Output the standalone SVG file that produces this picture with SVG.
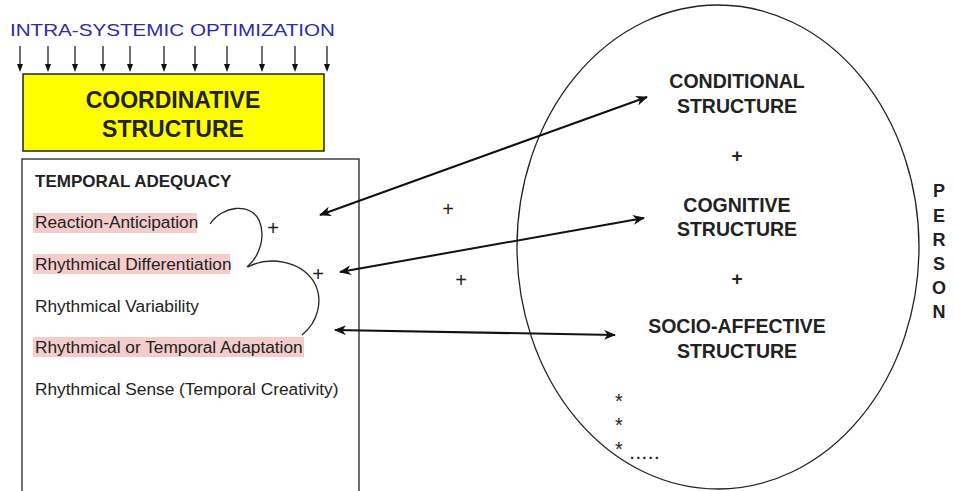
<svg xmlns="http://www.w3.org/2000/svg" width="955" height="491" viewBox="0 0 955 491">
<defs>
<marker id="ah" viewBox="0 0 12 10" refX="11" refY="5" markerWidth="12" markerHeight="10" markerUnits="userSpaceOnUse" orient="auto-start-reverse">
<path d="M0,0 L12,5 L0,10 L3.5,5 Z" fill="#111"/>
</marker>
<style>
.t{font-family:"Liberation Sans",Arial,sans-serif;fill:#222}
.b{font-weight:bold}
.hl{fill:#f4cccc}
.con{stroke:#111;stroke-width:2;fill:none;marker-start:url(#ah);marker-end:url(#ah)}
.dn{stroke:#111;stroke-width:1.2}
.cv{stroke:#222;stroke-width:1.3;fill:none}
</style>
</defs>
<rect width="955" height="491" fill="#fff"/>

<g id="optimization">
<text class="t" x="10" y="36" font-size="17" textLength="325" lengthAdjust="spacingAndGlyphs" style="fill:#2b2bae">INTRA-SYSTEMIC OPTIMIZATION</text>
<g class="dn">
<line x1="20" y1="46" x2="20" y2="69"/>
<line x1="48" y1="46" x2="48" y2="69"/>
<line x1="75" y1="46" x2="75" y2="69"/>
<line x1="103" y1="46" x2="103" y2="69"/>
<line x1="130" y1="46" x2="130" y2="69"/>
<line x1="164" y1="46" x2="164" y2="69"/>
<line x1="195" y1="46" x2="195" y2="69"/>
<line x1="227" y1="46" x2="227" y2="69"/>
<line x1="262" y1="46" x2="262" y2="69"/>
<line x1="295" y1="46" x2="295" y2="69"/>
<line x1="327" y1="46" x2="327" y2="69"/>
</g>
<g fill="#111">
<path d="M17,64 L23,64 L20,72 Z"/>
<path d="M45,64 L51,64 L48,72 Z"/>
<path d="M72,64 L78,64 L75,72 Z"/>
<path d="M100,64 L106,64 L103,72 Z"/>
<path d="M127,64 L133,64 L130,72 Z"/>
<path d="M161,64 L167,64 L164,72 Z"/>
<path d="M192,64 L198,64 L195,72 Z"/>
<path d="M224,64 L230,64 L227,72 Z"/>
<path d="M259,64 L265,64 L262,72 Z"/>
<path d="M292,64 L298,64 L295,72 Z"/>
<path d="M324,64 L330,64 L327,72 Z"/>
</g>
</g>

<g id="coordinative">
<rect x="23" y="74" width="301" height="77" fill="#ffff00" stroke="#222" stroke-width="1.5"/>
<text class="t b" x="173" y="108" font-size="23" text-anchor="middle">COORDINATIVE</text>
<text class="t b" x="173" y="137" font-size="23" text-anchor="middle">STRUCTURE</text>
</g>

<g id="temporal">
<rect x="22" y="159" width="337" height="340" fill="#fff" stroke="#222" stroke-width="1.3"/>
<rect class="hl" x="33" y="213" width="164" height="20"/>
<rect class="hl" x="33" y="254" width="197" height="20"/>
<rect class="hl" x="33" y="337" width="271" height="20"/>
<text class="t b" x="35" y="187" font-size="17">TEMPORAL ADEQUACY</text>
<text class="t" x="35" y="228" font-size="17.3">Reaction-Anticipation</text>
<text class="t" x="35" y="270" font-size="17.3">Rhythmical Differentiation</text>
<text class="t" x="35" y="312" font-size="17.3">Rhythmical Variability</text>
<text class="t" x="35" y="353" font-size="17.3">Rhythmical or Temporal Adaptation</text>
<text class="t" x="35" y="395" font-size="17.3">Rhythmical Sense (Temporal Creativity)</text>
<path class="cv" d="M210,224 C222,206 250,202 259,220 C266,236 260,256 247,267"/>
<path class="cv" d="M248,267 C268,256 300,260 314,282 C324,300 318,322 302,335"/>
<text class="t" x="273" y="235" font-size="20" text-anchor="middle">+</text>
<text class="t" x="318" y="281" font-size="20" text-anchor="middle">+</text>
</g>

<g id="person">
<ellipse cx="718" cy="247" rx="201" ry="242" fill="none" stroke="#222" stroke-width="1.3"/>
<text class="t b" x="737" y="88" font-size="19.5" text-anchor="middle">CONDITIONAL</text>
<text class="t b" x="737" y="113" font-size="19.5" text-anchor="middle">STRUCTURE</text>
<text class="t b" x="737" y="162" font-size="19" text-anchor="middle">+</text>
<text class="t b" x="737" y="212" font-size="19.5" text-anchor="middle">COGNITIVE</text>
<text class="t b" x="737" y="236" font-size="19.5" text-anchor="middle">STRUCTURE</text>
<text class="t b" x="737" y="285" font-size="19" text-anchor="middle">+</text>
<text class="t b" x="737" y="333" font-size="19.5" text-anchor="middle">SOCIO-AFFECTIVE</text>
<text class="t b" x="737" y="358" font-size="19.5" text-anchor="middle">STRUCTURE</text>
<text class="t" x="619" y="408" font-size="20" text-anchor="middle">*</text>
<text class="t" x="619" y="432" font-size="20" text-anchor="middle">*</text>
<text class="t" x="619" y="456" font-size="20" text-anchor="middle">*</text>
<text class="t b" x="630" y="459" font-size="15" letter-spacing="2">.....</text>
</g>

<g id="person-label" class="t b" font-size="18" text-anchor="middle">
<text x="939" y="197">P</text>
<text x="939" y="222">E</text>
<text x="939" y="246">R</text>
<text x="939" y="270">S</text>
<text x="939" y="294">O</text>
<text x="939" y="318">N</text>
</g>

<g id="connectors">
<line class="con" x1="320" y1="215" x2="647" y2="97"/>
<line class="con" x1="340" y1="272" x2="644" y2="218"/>
<line class="con" x1="335" y1="330" x2="615" y2="335"/>
<text class="t" x="448" y="216" font-size="20" text-anchor="middle">+</text>
<text class="t" x="461" y="287" font-size="20" text-anchor="middle">+</text>
</g>
</svg>
